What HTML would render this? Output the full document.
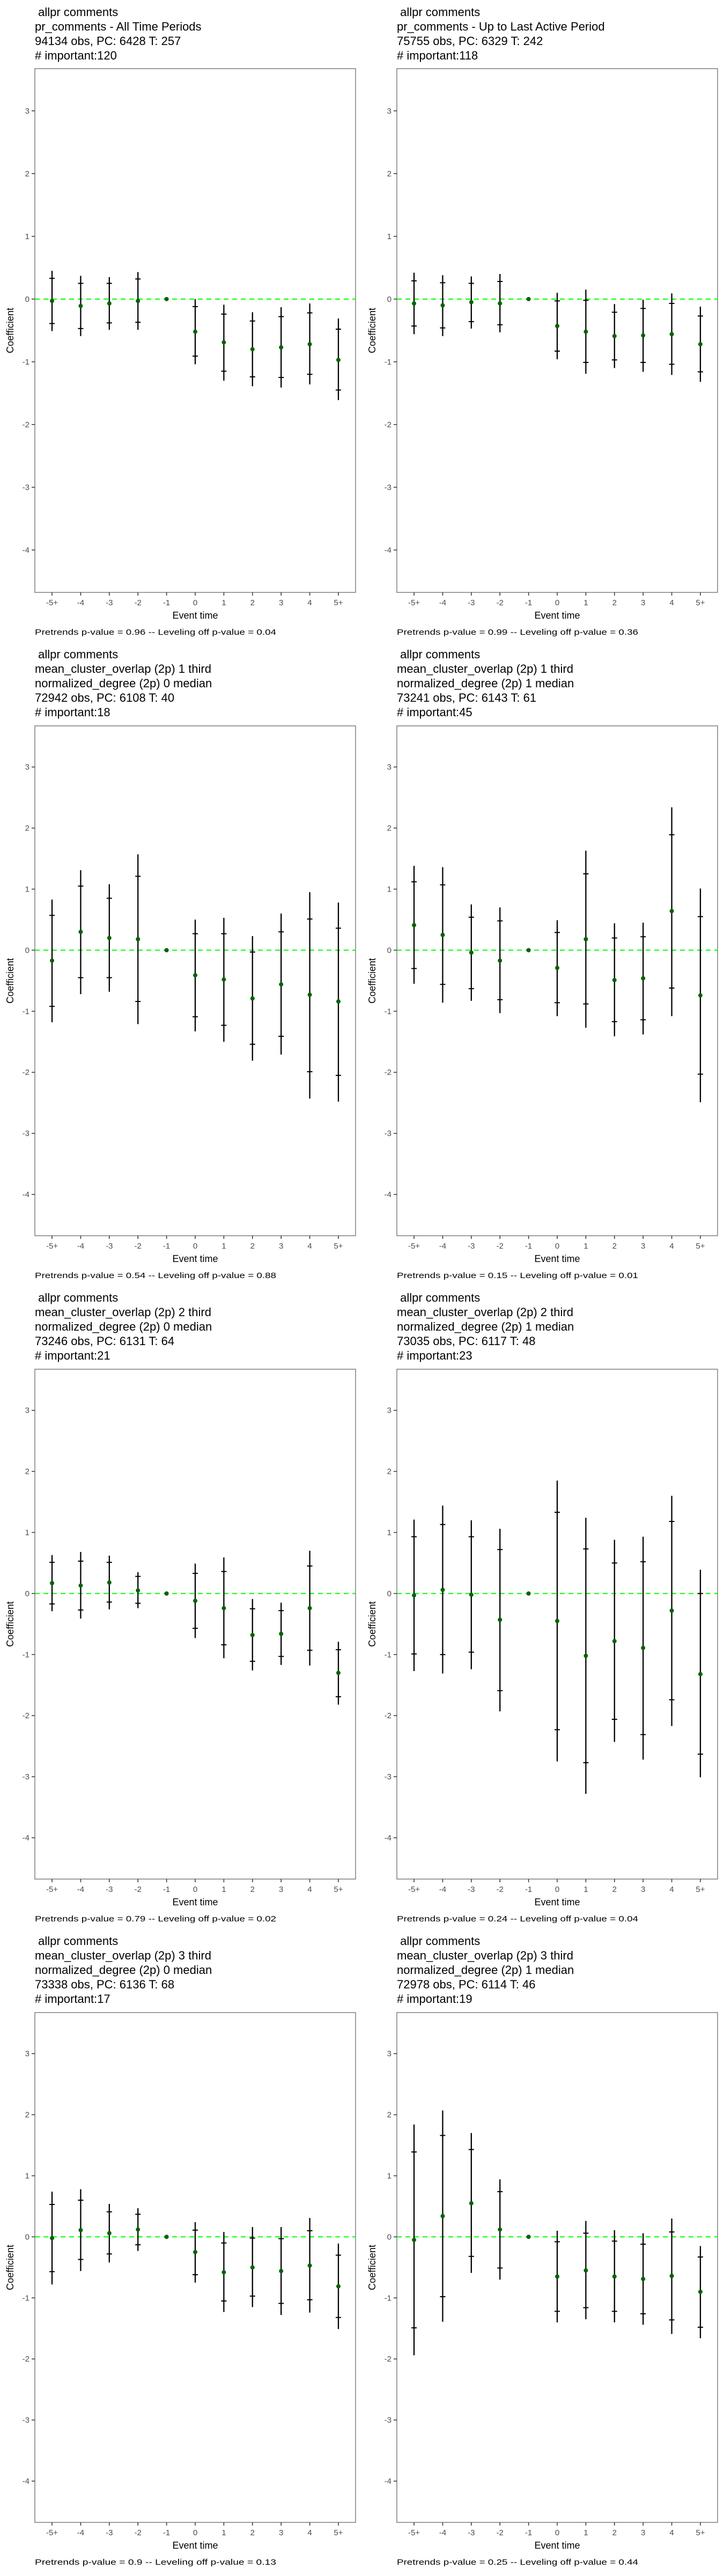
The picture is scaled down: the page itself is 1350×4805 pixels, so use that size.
<!DOCTYPE html>
<html>
<head>
<meta charset="utf-8">
<style>
  html,body{margin:0;padding:0;background:#fff;}
  body{width:1350px;height:4800px;overflow:hidden;}
  svg text{font-family:"Liberation Sans",Arial,sans-serif;white-space:pre;}
</style>
</head>
<body>
<svg id="chart" width="1350" height="4800" xmlns="http://www.w3.org/2000/svg"></svg>
<script>
// ---- shared data ----
const categories = ["-5+","-4","-3","-2","-1","0","1","2","3","4","5+"];
const yTicks = [-4,-3,-2,-1,0,1,2,3];
const yMin = -4.676, yMax = 3.673;

// ---- panel 1: pr_comments all time ----
const p1Title = [" allpr comments","pr_comments - All Time Periods","94134 obs, PC: 6428 T: 257","# important:120"];
const p1Est   = [-0.03,-0.11,-0.07,-0.03,0,-0.52,-0.69,-0.80,-0.77,-0.72,-0.97];
const p1Hi95  = [0.45,0.37,0.35,0.43,null,0.00,-0.09,-0.21,-0.13,-0.07,-0.31];
const p1Hi90  = [0.33,0.25,0.25,0.32,null,-0.12,-0.24,-0.35,-0.28,-0.22,-0.48];
const p1Lo90  = [-0.39,-0.47,-0.38,-0.37,null,-0.91,-1.15,-1.24,-1.25,-1.20,-1.45];
const p1Lo95  = [-0.51,-0.59,-0.49,-0.49,null,-1.04,-1.30,-1.39,-1.41,-1.36,-1.61];
const p1Note = "Pretrends p-value = 0.96 -- Leveling off p-value = 0.04";

// ---- panel 2: pr_comments up to last active ----
const p2Title = [" allpr comments","pr_comments - Up to Last Active Period","75755 obs, PC: 6329 T: 242","# important:118"];
const p2Est   = [-0.07,-0.10,-0.05,-0.07,0,-0.43,-0.52,-0.59,-0.58,-0.56,-0.72];
const p2Hi95  = [0.42,0.38,0.36,0.40,null,0.10,0.15,-0.08,-0.01,0.09,-0.12];
const p2Hi90  = [0.29,0.26,0.25,0.28,null,-0.03,-0.02,-0.21,-0.15,-0.07,-0.27];
const p2Lo90  = [-0.43,-0.46,-0.36,-0.41,null,-0.83,-1.01,-0.97,-1.01,-1.04,-1.16];
const p2Lo95  = [-0.56,-0.59,-0.47,-0.53,null,-0.96,-1.19,-1.10,-1.16,-1.21,-1.32];
const p2Note = "Pretrends p-value = 0.99 -- Leveling off p-value = 0.36";

// ---- panel 3 ----
const p3Title = [" allpr comments","mean_cluster_overlap (2p) 1 third","normalized_degree (2p) 0 median","72942 obs, PC: 6108 T: 40","# important:18"];
const p3Est   = [-0.17,0.30,0.20,0.18,0,-0.41,-0.48,-0.79,-0.56,-0.73,-0.84];
const p3Hi95  = [0.83,1.31,1.08,1.57,null,0.50,0.53,0.23,0.60,0.95,0.78];
const p3Hi90  = [0.57,1.05,0.85,1.21,null,0.27,0.27,-0.03,0.30,0.51,0.36];
const p3Lo90  = [-0.92,-0.45,-0.45,-0.84,null,-1.09,-1.23,-1.54,-1.41,-1.99,-2.05];
const p3Lo95  = [-1.18,-0.72,-0.68,-1.21,null,-1.33,-1.50,-1.81,-1.71,-2.43,-2.48];
const p3Note = "Pretrends p-value = 0.54 -- Leveling off p-value = 0.88";

// ---- panel 4 ----
const p4Title = [" allpr comments","mean_cluster_overlap (2p) 1 third","normalized_degree (2p) 1 median","73241 obs, PC: 6143 T: 61","# important:45"];
const p4Est   = [0.41,0.25,-0.04,-0.17,0,-0.29,0.18,-0.49,-0.46,0.64,-0.74];
const p4Hi95  = [1.38,1.36,0.75,0.70,null,0.49,1.63,0.44,0.45,2.34,1.01];
const p4Hi90  = [1.12,1.07,0.54,0.48,null,0.29,1.25,0.20,0.22,1.89,0.55];
const p4Lo90  = [-0.30,-0.56,-0.63,-0.81,null,-0.86,-0.88,-1.17,-1.14,-0.62,-2.03];
const p4Lo95  = [-0.55,-0.86,-0.83,-1.03,null,-1.08,-1.27,-1.41,-1.38,-1.08,-2.49];
const p4Note = "Pretrends p-value = 0.15 -- Leveling off p-value = 0.01";

// ---- panel 5 ----
const p5Title = [" allpr comments","mean_cluster_overlap (2p) 2 third","normalized_degree (2p) 0 median","73246 obs, PC: 6131 T: 64","# important:21"];
const p5Est   = [0.17,0.13,0.18,0.05,0,-0.12,-0.24,-0.68,-0.66,-0.24,-1.30];
const p5Hi95  = [0.63,0.68,0.62,0.35,null,0.49,0.59,-0.09,-0.15,0.70,-0.79];
const p5Hi90  = [0.51,0.53,0.51,0.28,null,0.33,0.36,-0.25,-0.28,0.45,-0.92];
const p5Lo90  = [-0.17,-0.27,-0.14,-0.16,null,-0.57,-0.84,-1.11,-1.03,-0.93,-1.69];
const p5Lo95  = [-0.29,-0.41,-0.26,-0.24,null,-0.73,-1.06,-1.26,-1.17,-1.18,-1.82];
const p5Note = "Pretrends p-value = 0.79 -- Leveling off p-value = 0.02";

// ---- panel 6 ----
const p6Title = [" allpr comments","mean_cluster_overlap (2p) 2 third","normalized_degree (2p) 1 median","73035 obs, PC: 6117 T: 48","# important:23"];
const p6Est   = [-0.03,0.06,-0.02,-0.43,0,-0.45,-1.02,-0.78,-0.89,-0.28,-1.32];
const p6Hi95  = [1.21,1.44,1.20,1.06,null,1.85,1.24,0.88,0.93,1.60,0.39];
const p6Hi90  = [0.93,1.13,0.93,0.72,null,1.33,0.73,0.50,0.52,1.18,0.00];
const p6Lo90  = [-0.99,-1.00,-0.96,-1.59,null,-2.23,-2.77,-2.06,-2.31,-1.74,-2.63];
const p6Lo95  = [-1.27,-1.31,-1.24,-1.93,null,-2.75,-3.28,-2.43,-2.72,-2.17,-3.01];
const p6Note = "Pretrends p-value = 0.24 -- Leveling off p-value = 0.04";

// ---- panel 7 ----
const p7Title = [" allpr comments","mean_cluster_overlap (2p) 3 third","normalized_degree (2p) 0 median","73338 obs, PC: 6136 T: 68","# important:17"];
const p7Est   = [-0.02,0.11,0.06,0.12,0,-0.25,-0.58,-0.50,-0.56,-0.47,-0.81];
const p7Hi95  = [0.74,0.78,0.54,0.47,null,0.24,0.08,0.16,0.16,0.31,-0.11];
const p7Hi90  = [0.53,0.60,0.41,0.37,null,0.11,-0.10,-0.02,-0.03,0.10,-0.30];
const p7Lo90  = [-0.57,-0.37,-0.28,-0.13,null,-0.62,-1.05,-0.97,-1.09,-1.03,-1.32];
const p7Lo95  = [-0.78,-0.56,-0.42,-0.23,null,-0.75,-1.23,-1.15,-1.28,-1.24,-1.51];
const p7Note = "Pretrends p-value = 0.9 -- Leveling off p-value = 0.13";

// ---- panel 8 ----
const p8Title = [" allpr comments","mean_cluster_overlap (2p) 3 third","normalized_degree (2p) 1 median","72978 obs, PC: 6114 T: 46","# important:19"];
const p8Est   = [-0.05,0.34,0.55,0.12,0,-0.65,-0.55,-0.65,-0.69,-0.64,-0.90];
const p8Hi95  = [1.84,2.07,1.70,0.94,null,0.10,0.26,0.11,0.06,0.30,-0.15];
const p8Hi90  = [1.39,1.66,1.43,0.74,null,-0.08,0.06,-0.07,-0.12,0.08,-0.33];
const p8Lo90  = [-1.49,-0.98,-0.32,-0.51,null,-1.22,-1.16,-1.22,-1.26,-1.36,-1.48];
const p8Lo95  = [-1.94,-1.39,-0.59,-0.70,null,-1.40,-1.35,-1.40,-1.44,-1.59,-1.66];
const p8Note = "Pretrends p-value = 0.25 -- Leveling off p-value = 0.44";

const panels = [
  {title:p1Title, est:p1Est, hi95:p1Hi95, hi90:p1Hi90, lo90:p1Lo90, lo95:p1Lo95, note:p1Note},
  {title:p2Title, est:p2Est, hi95:p2Hi95, hi90:p2Hi90, lo90:p2Lo90, lo95:p2Lo95, note:p2Note},
  {title:p3Title, est:p3Est, hi95:p3Hi95, hi90:p3Hi90, lo90:p3Lo90, lo95:p3Lo95, note:p3Note},
  {title:p4Title, est:p4Est, hi95:p4Hi95, hi90:p4Hi90, lo90:p4Lo90, lo95:p4Lo95, note:p4Note},
  {title:p5Title, est:p5Est, hi95:p5Hi95, hi90:p5Hi90, lo90:p5Lo90, lo95:p5Lo95, note:p5Note},
  {title:p6Title, est:p6Est, hi95:p6Hi95, hi90:p6Hi90, lo90:p6Lo90, lo95:p6Lo95, note:p6Note},
  {title:p7Title, est:p7Est, hi95:p7Hi95, hi90:p7Hi90, lo90:p7Lo90, lo95:p7Lo95, note:p7Note},
  {title:p8Title, est:p8Est, hi95:p8Hi95, hi90:p8Hi90, lo90:p8Lo90, lo95:p8Lo95, note:p8Note}
];

const NS = "http://www.w3.org/2000/svg";
const svg = document.getElementById('chart');
function mk(tag, attrs, parent, text){
  const e = document.createElementNS(NS, tag);
  for (const k in attrs) e.setAttribute(k, attrs[k]);
  if (text !== undefined) e.textContent = text;
  (parent||svg).appendChild(e);
  return e;
}

panels.forEach((p, i) => {
  const row = Math.floor(i/2), col = i%2;
  const ox = col*675;
  const left = 65+ox, right = 663+ox;
  const top = row===0 ? 128 : 1354 + 1200*(row-1);
  const bottom = row===0 ? 1105 : 2305 + 1200*(row-1);
  const titleY = row===0 ? 22 : 1220 + 1200*(row-1);
  const step = (right-left)/(categories.length-1+1.2);
  const xScale = k => left + step*(0.6+k);
  const yScale = v => top + (yMax - v)/(yMax - yMin)*(bottom-top);

  const g = mk('g', {});
  
  

  p.title.forEach((t, li) => {
    const tx = mk('text', {x: left, y: titleY + li*27 + 8, 'font-size': 22, fill: '#000'}, g, t);
    
    
  });

  const border = mk('rect', {x:left, y:top, width:right-left, height:bottom-top, fill:'#fff', stroke:'#7f7f7f', 'stroke-width':1.5}, g);
  
  

  yTicks.forEach(v => {
    const y = yScale(v);
    const t = mk('line', {x1:left-6, x2:left, y1:y, y2:y, stroke:'#333', 'stroke-width':1.5}, g);
    
    
    const l = mk('text', {x:left-10, y:y+5, 'font-size':15, fill:'#4d4d4d', 'text-anchor':'end'}, g, String(v));
    
    
  });
  categories.forEach((c, k) => {
    const x = xScale(k);
    const t = mk('line', {x1:x, x2:x, y1:bottom, y2:bottom+6, stroke:'#333', 'stroke-width':1.5}, g);
    
    
    const l = mk('text', {x:x, y:bottom+24, 'font-size':15, fill:'#4d4d4d', 'text-anchor':'middle'}, g, c);
    
    
  });

  const xt = mk('text', {x:(left+right)/2, y:bottom+49, 'font-size':18, fill:'#000', 'text-anchor':'middle'}, g, 'Event time');
  
  
  const cy = (top+bottom)/2;
  const yt = mk('text', {x:ox+25, y:cy, 'font-size':18, fill:'#000', 'text-anchor':'middle', transform:'rotate(-90 '+(ox+25)+' '+cy+')'}, g, 'Coefficient');
  
  

  const cap = mk('text', {x:left, y:bottom+79, 'font-size':15, fill:'#000', textLength:450, lengthAdjust:'spacingAndGlyphs'}, g, p.note);
  
  

  const z = yScale(0);
  const zl = mk('line', {x1:left, x2:right, y1:z, y2:z, stroke:'#00ff00', 'stroke-width':2, 'stroke-dasharray':'9,7'}, g);
  
  

  categories.forEach((c, k) => {
    const x = xScale(k);
    if (p.hi95[k] !== null) {
      const bar = mk('line', {x1:x, x2:x, y1:yScale(p.hi95[k]), y2:yScale(p.lo95[k]), stroke:'#000', 'stroke-width':2.3}, g);
      
      
      [p.hi90[k], p.lo90[k]].forEach(v => {
        const tk = mk('line', {x1:x-5, x2:x+5, y1:yScale(v), y2:yScale(v), stroke:'#000', 'stroke-width':2}, g);
        
        
      });
    }
    const pt = mk('circle', {cx:x, cy:yScale(p.est[k]), r:4, fill:'#006400'}, g);
    
    
  });
});
</script>
</body>
</html>
